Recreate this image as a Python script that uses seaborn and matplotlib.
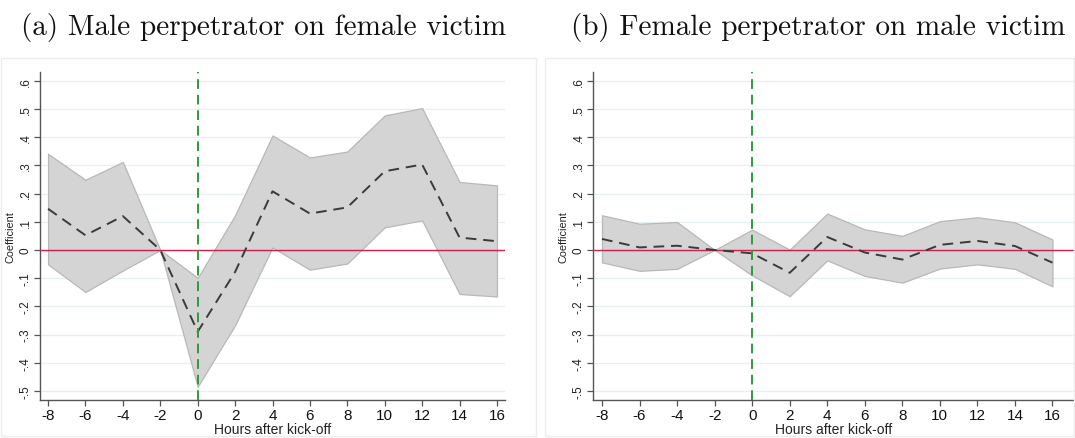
import matplotlib
matplotlib.use("Agg")
import matplotlib.pyplot as plt
import seaborn as sns
import pandas as pd
from matplotlib.patches import Rectangle

# ---- data ----
hours = [-8, -6, -4, -2, 0, 2, 4, 6, 8, 10, 12, 14, 16]

a_coef = [0.146, 0.052, 0.120, 0.0, -0.290, -0.078, 0.208, 0.129, 0.151, 0.279, 0.303, 0.044, 0.031]
a_upper = [0.341, 0.249, 0.312, 0.0, -0.099, 0.123, 0.406, 0.328, 0.349, 0.477, 0.503, 0.241, 0.229]
a_lower = [-0.051, -0.149, -0.073, 0.0, -0.485, -0.267, 0.009, -0.070, -0.048, 0.080, 0.105, -0.156, -0.165]

b_coef = [0.039, 0.009, 0.015, 0.0, -0.012, -0.081, 0.046, -0.009, -0.034, 0.018, 0.032, 0.014, -0.045]
b_upper = [0.123, 0.093, 0.099, 0.0, 0.072, 0.001, 0.129, 0.073, 0.050, 0.102, 0.116, 0.098, 0.037]
b_lower = [-0.044, -0.074, -0.067, 0.0, -0.090, -0.164, -0.037, -0.092, -0.116, -0.066, -0.051, -0.067, -0.129]

y_ticks = [-0.5, -0.4, -0.3, -0.2, -0.1, 0.0, 0.1, 0.2, 0.3, 0.4, 0.5, 0.6]
y_ticklabels = ["-.5", "-.4", "-.3", "-.2", "-.1", "0", ".1", ".2", ".3", ".4", ".5", ".6"]
x_ticks = hours
titles = ["(a) Male perpetrator on female victim", "(b) Female perpetrator on male victim"]
xlabel = "Hours after kick-off"
ylabel = "Coefficient"

sns.set_theme(style="white")
plt.rcParams["font.family"] = ["Liberation Sans", "DejaVu Sans"]

W, H = 1075, 439
fig = plt.figure(figsize=(W / 100, H / 100), dpi=100)
fig.patch.set_facecolor("white")

def fx(px):
    return px / W

def fy(py):
    return 1 - py / H

panels = [
    dict(coef=a_coef, up=a_upper, lo=a_lower, left=40, right=505, xlim=(-8.43, 16.43),
         title=titles[0], tcx=264, box=(1, 536)),
    dict(coef=b_coef, up=b_upper, lo=b_lower, left=593, right=1075, xlim=(-8.48, 17.2),
         title=titles[1], tcx=818, box=(545, 1074)),
]

top_px, bot_px = 73, 401

for p in panels:
    # panel frame (graph region)
    fig.add_artist(Rectangle((fx(p["box"][0]), fy(437)), fx(p["box"][1] - p["box"][0]),
                             (437 - 59) / H, transform=fig.transFigure, fill=False,
                             edgecolor="#ececec", linewidth=1.0))
    ax = fig.add_axes([fx(p["left"]), fy(bot_px), fx(p["right"] - p["left"]), (bot_px - top_px) / H])
    ax.set_facecolor("white")
    df = pd.DataFrame({"hours": hours, "coef": p["coef"], "up": p["up"], "lo": p["lo"]})
    ax.fill_between(df["hours"], df["lo"], df["up"], facecolor="#d4d4d4", edgecolor="#b8b8b8",
                    linewidth=0.9, zorder=2)
    sns.lineplot(data=df, x="hours", y="coef", ax=ax, color="#3a3a3a", linewidth=1.4,
                 linestyle=(0, (5.5, 3.5)), zorder=4)
    ax.axhline(0, color="#d0204a", linewidth=1.0, zorder=3)
    ax.axvline(0, color="#2e9a3c", linewidth=1.4, linestyle=(0, (5, 3)), zorder=5)
    for yt in y_ticks:
        if yt != 0:
            ax.axhline(yt, color="#e6eff2", linewidth=0.9, zorder=1)
    ax.set_xlim(*p["xlim"])
    ax.set_ylim(-0.532, 0.631)
    ax.set_yticks(y_ticks)
    ax.set_yticklabels(y_ticklabels, rotation=90, va="center", fontsize=8.5, color="#222222")
    ax.set_xticks(x_ticks)
    ax.set_xticklabels([str(h) for h in x_ticks], fontsize=11, color="#111111")
    ax.tick_params(axis="both", which="major", length=4, width=0.9, color="#555555",
                   left=True, bottom=True, pad=2)
    ax.tick_params(axis="x", pad=2)
    for s in ["top", "right"]:
        ax.spines[s].set_visible(False)
    for s in ["left", "bottom"]:
        ax.spines[s].set_color("#555555")
        ax.spines[s].set_linewidth(1.0)
    ax.set_xlabel(xlabel, fontsize=10, color="#222222", labelpad=0)
    ax.set_ylabel(ylabel, fontsize=7.8, color="#222222", labelpad=3)
    ax.grid(False)
    fig.text(fx(p["tcx"]), fy(27), p["title"], ha="center", va="center",
             fontsize=21, family="cmr10", color="#111111")

fig.savefig("out.png", dpi=100, facecolor="white")
